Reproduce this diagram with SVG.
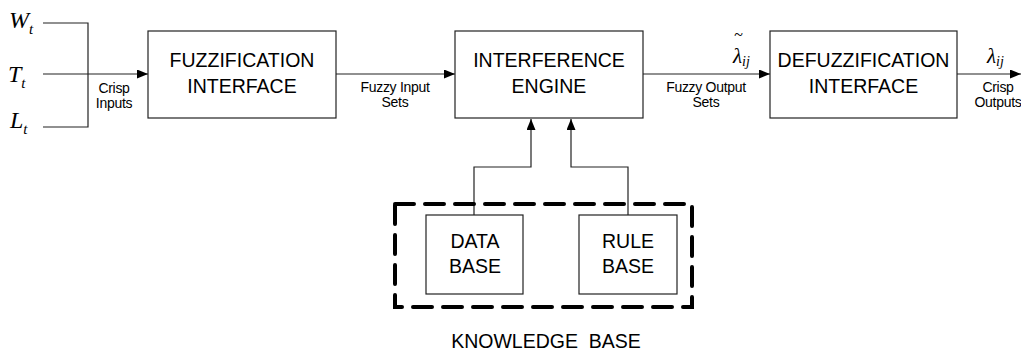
<svg xmlns="http://www.w3.org/2000/svg" width="1021" height="352" viewBox="0 0 1021 352">
<style>
.box{fill:#fff;stroke:#222;stroke-width:1.2}
.lbl{font-family:"Liberation Sans",Arial,sans-serif;font-size:19.5px;fill:#000;text-anchor:middle}
.sm{font-family:"Liberation Sans",Arial,sans-serif;font-size:14px;fill:#000;text-anchor:middle;letter-spacing:-0.3px}
.math{font-family:"Liberation Serif","Times New Roman",serif;font-style:italic;fill:#000}
.wire{fill:none;stroke:#222;stroke-width:1.2}
.arr{fill:none;stroke:#222;stroke-width:1.2;marker-end:url(#ah)}
.dash{fill:none;stroke:#000;stroke-width:4;stroke-dasharray:19 11;stroke-linecap:round}
</style>
<defs>
<marker id="ah" markerUnits="userSpaceOnUse" markerWidth="12" markerHeight="10" refX="11" refY="4.5" orient="auto">
<path d="M0,0 L11,4.5 L0,9 z" fill="#000"/>
</marker>
</defs>
<rect width="1021" height="352" fill="#fff"/>

<g id="inputs">
<text class="math" x="9" y="28" font-size="24">W<tspan font-size="15" dy="6">t</tspan></text>
<text class="math" x="8" y="82" font-size="24">T<tspan font-size="15" dy="6">t</tspan></text>
<text class="math" x="10" y="128" font-size="24">L<tspan font-size="15" dy="6">t</tspan></text>
</g>

<g id="connectors">
<path class="wire" d="M43,23 H88 V127 H43"/>
<path class="arr" d="M43,74 H148"/>
<path class="arr" d="M336,74 H455"/>
<path class="arr" d="M643,74 H770"/>
<path class="arr" d="M957,74 H1021"/>
<path class="arr" d="M474,215 V167 H531 V119"/>
<path class="arr" d="M628,215 V167 H571 V119"/>
<text class="sm" x="114" y="93">Crisp</text>
<text class="sm" x="114" y="108">Inputs</text>
<text class="sm" x="395" y="92">Fuzzy Input</text>
<text class="sm" x="395" y="107">Sets</text>
<text class="sm" x="706" y="92">Fuzzy Output</text>
<text class="sm" x="706" y="107">Sets</text>
<text class="sm" x="998" y="92">Crisp</text>
<text class="sm" x="998" y="107">Outputs</text>
<text class="math" x="734" y="40" font-size="16">~</text>
<text class="math" x="733" y="63" font-size="21">λ<tspan font-size="14" dy="3">ij</tspan></text>
<text class="math" x="987" y="63" font-size="21">λ<tspan font-size="14" dy="3">ij</tspan></text>
</g>

<g id="fuzzification">
<rect class="box" x="148" y="31" width="188" height="87"/>
<text class="lbl" x="242" y="67">FUZZIFICATION</text>
<text class="lbl" x="242" y="93">INTERFACE</text>
</g>

<g id="inference">
<rect class="box" x="455" y="31" width="188" height="87"/>
<text class="lbl" x="549" y="67">INTERFERENCE</text>
<text class="lbl" x="549" y="93">ENGINE</text>
</g>

<g id="defuzzification">
<rect class="box" x="770" y="31" width="187" height="87"/>
<text class="lbl" x="863.5" y="67" font-size="18.8">DEFUZZIFICATION</text>
<text class="lbl" x="863.5" y="93" font-size="18.8">INTERFACE</text>
</g>

<g id="knowledge-base">
<rect class="dash" x="395" y="204" width="297" height="103"/>
<text class="lbl" x="546" y="348" style="white-space:pre">KNOWLEDGE  BASE</text>
</g>

<g id="data-base">
<rect class="box" x="426" y="215" width="97" height="79"/>
<text class="lbl" x="475" y="248" font-size="20">DATA</text>
<text class="lbl" x="475" y="273" font-size="20">BASE</text>
</g>

<g id="rule-base">
<rect class="box" x="579" y="215" width="98" height="79"/>
<text class="lbl" x="628" y="248" font-size="20">RULE</text>
<text class="lbl" x="628" y="273" font-size="20">BASE</text>
</g>
</svg>
